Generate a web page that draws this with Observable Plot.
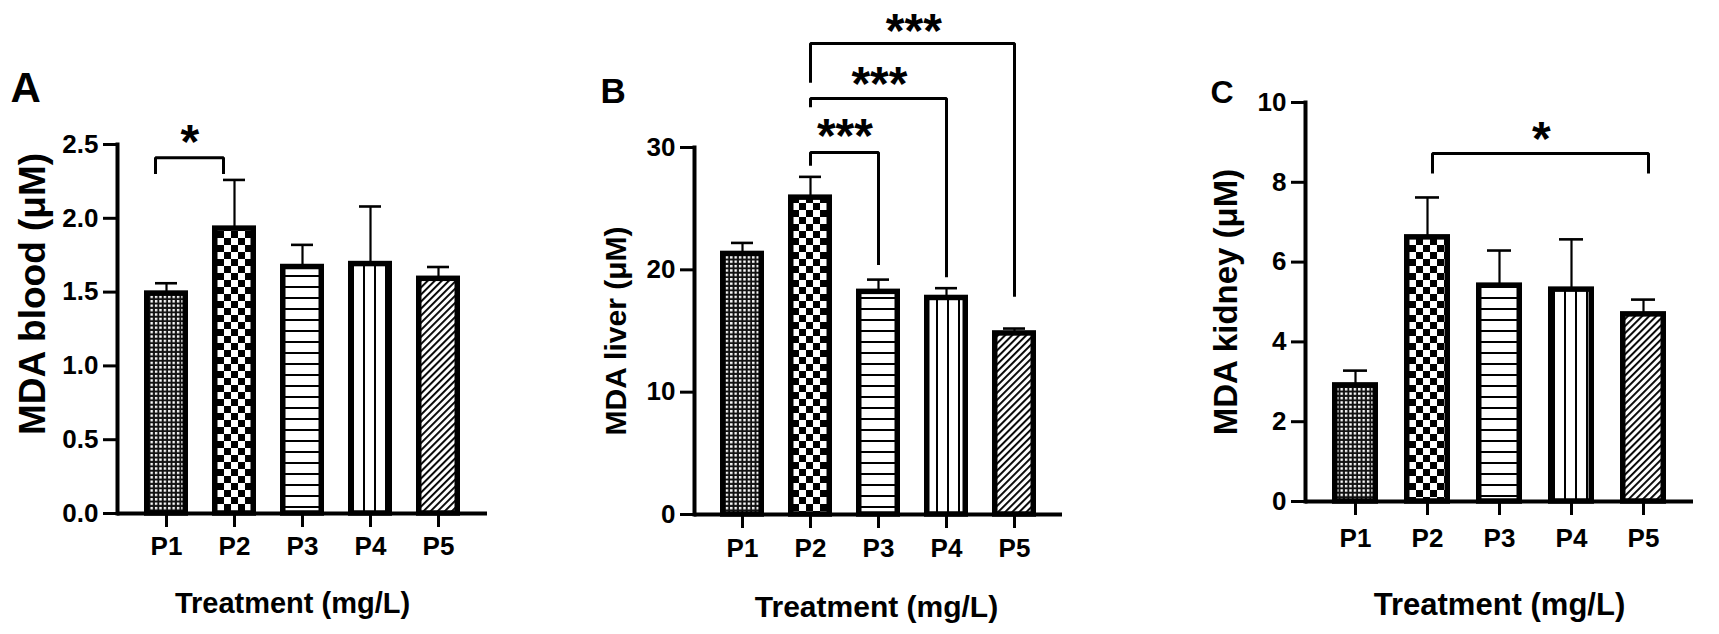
<!DOCTYPE html>
<html><head><meta charset="utf-8">
<script src="https://cdn.jsdelivr.net/npm/d3@7"></script>
<script src="https://cdn.jsdelivr.net/npm/@observablehq/plot@0.6"></script>
<style>
html,body{margin:0;padding:0;background:#fff;}
#wrap{position:relative;width:1719px;height:634px;overflow:hidden;background:#fff;}
#wrap svg{position:absolute;top:0;}
</style></head><body>
<svg width="0" height="0" style="position:absolute;left:0;top:0">
<defs>
  <pattern id="patP1" patternUnits="userSpaceOnUse" width="4.4" height="4.4">
    <rect width="4.4" height="4.4" fill="#111"/>
    <rect x="0.9" y="0.9" width="2.4" height="2.4" fill="#fff"/>
  </pattern>
  <pattern id="patP2" patternUnits="userSpaceOnUse" width="14" height="14">
    <rect width="14" height="14" fill="#fff"/>
    <rect width="7" height="7" fill="#000"/>
    <rect x="7" y="7" width="7" height="7" fill="#000"/>
  </pattern>
  <pattern id="patP3" patternUnits="userSpaceOnUse" width="10" height="11">
    <rect width="10" height="11" fill="#fff"/>
    <rect y="0" width="10" height="2" fill="#000"/>
  </pattern>
  <pattern id="patP4" patternUnits="userSpaceOnUse" width="11" height="10">
    <rect width="11" height="10" fill="#fff"/>
    <rect x="0" width="2" height="10" fill="#000"/>
  </pattern>
  <pattern id="patP5" patternUnits="userSpaceOnUse" width="5" height="5" patternTransform="rotate(45)">
    <rect width="5" height="5" fill="#fff"/>
    <rect x="0" width="1.9" height="5" fill="#000"/>
  </pattern>
</defs>
</svg>
<div id="wrap"></div>
<script>
// ---------- data ----------
const categories = ["P1", "P2", "P3", "P4", "P5"];

const bloodMean = [1.49, 1.93, 1.67, 1.69, 1.59];
const bloodErr  = [0.07, 0.33, 0.15, 0.39, 0.08];

const liverMean = [21.3, 25.9, 18.2, 17.7, 14.8];
const liverErr  = [0.9, 1.7, 1.0, 0.8, 0.4];

const kidneyMean = [2.91, 6.62, 5.41, 5.31, 4.69];
const kidneyErr  = [0.37, 1.00, 0.88, 1.26, 0.37];

const bloodTicks  = [0, 0.5, 1.0, 1.5, 2.0, 2.5];
const liverTicks  = [0, 10, 20, 30];
const kidneyTicks = [0, 2, 4, 6, 8, 10];

const bloodBrackets = [
  {from: "P1", to: "P2", leftEnd: 2.30, top: 2.41, rightEnd: 2.30, stars: "*", starTop: 2.64}
];
const liverBrackets = [
  {from: "P2", to: "P3", leftEnd: 28.5, top: 29.6, rightEnd: 20.4, stars: "***", starTop: 32.4},
  {from: "P2", to: "P4", leftEnd: 33.3, top: 34.0, rightEnd: 19.4, stars: "***", starTop: 36.7},
  {from: "P2", to: "P5", leftEnd: 35.3, top: 38.5, rightEnd: 17.8, stars: "***", starTop: 41.0}
];
const kidneyBrackets = [
  {from: "P2", to: "P5", leftEnd: 8.22, top: 8.72, rightEnd: 8.22, stars: "*", starTop: 9.55}
];

const xTitle = "Treatment (mg/L)";
const patternUrls = ["url(#patP1)", "url(#patP2)", "url(#patP3)", "url(#patP4)", "url(#patP5)"];
const FONT = "'Liberation Sans', Arial, Helvetica, sans-serif";

function drawPanel(cfg) {
  const data = categories.map((c, i) => ({cat: c, mean: cfg.means[i], err: cfg.errs[i]}));
  const pI = 0.36;
  const step = (cfg.width - cfg.mL - cfg.mR) / (categories.length - pI + 2 * cfg.pO);
  const pts = cfg.brackets.flatMap((b, k) => [
    {id: k, x: b.from, y: b.leftEnd},
    {id: k, x: b.from, y: b.top},
    {id: k, x: b.to, y: b.top},
    {id: k, x: b.to, y: b.rightEnd}
  ]);
  const starMarks = cfg.brackets.map(b => Plot.text([b], {
    x: "from", y: "starTop", text: "stars",
    dx: (categories.indexOf(b.to) - categories.indexOf(b.from)) / 2 * step + cfg.nudge,
    lineAnchor: "top", textAnchor: "middle", fontSize: 48, fontWeight: "bold", fill: "#000"
  }));
  const svg = Plot.plot({
    width: cfg.width, height: 634,
    marginLeft: cfg.mL, marginRight: cfg.mR, marginTop: cfg.mT, marginBottom: cfg.mB,
    style: {fontFamily: FONT, background: "transparent", overflow: "visible", color: "#000"},
    x: {domain: categories, paddingInner: pI, paddingOuter: cfg.pO, axis: null},
    y: {domain: [0, cfg.yMax], axis: null},
    color: {domain: categories, range: patternUrls},
    marks: [
      Plot.barY(data, {x: "cat", y: "mean", fill: "cat", stroke: "#000", strokeWidth: 5.5,
        insetLeft: 2.75, insetRight: 2.75, strokeLinejoin: "miter"}),
      Plot.ruleX(data, {x: "cat", y1: "mean", y2: d => d.mean + d.err, stroke: "#000", strokeWidth: 2.2}),
      Plot.tickY(data, {x: "cat", y: d => d.mean + d.err, stroke: "#000", strokeWidth: 2.6, insetLeft: 11, insetRight: 11}),
      Plot.axisY({ticks: cfg.yTicks, tickFormat: cfg.yFmt, tickSize: 14, tickPadding: 5, strokeWidth: 3,
        fontSize: 26, fontWeight: "bold", label: null, fill: "#000", stroke: "#000"}),
      Plot.axisX({tickSize: 14, tickPadding: cfg.xTickPad, strokeWidth: 3, fontSize: 26, fontWeight: "bold",
        label: null, fill: "#000", stroke: "#000"}),
      Plot.ruleY([0], {stroke: "#000", strokeWidth: 4}),
      Plot.frame({anchor: "left", stroke: "#000", strokeWidth: 4}),
      Plot.line(pts, {x: "x", y: "y", z: "id", stroke: "#000", strokeWidth: 3, dx: cfg.nudge,
        strokeLinejoin: "miter", strokeLinecap: "butt"}),
      ...starMarks,
      Plot.text([cfg.ylab], {text: d => d, frameAnchor: "left", rotate: -90, dx: cfg.ylabDx, dy: cfg.ylabDy,
        textAnchor: "middle", lineAnchor: "middle", fontSize: cfg.ylabSize, fontWeight: "bold", fill: "#000"}),
      Plot.text([xTitle], {text: d => d, frameAnchor: "bottom", dx: cfg.xlabDx, dy: cfg.xlabDy,
        textAnchor: "middle", lineAnchor: "top", fontSize: cfg.xlabSize, fontWeight: "bold", fill: "#000"}),
      Plot.text([cfg.letter], {text: d => d, frameAnchor: "top-left", dx: cfg.letterDx, dy: cfg.letterDy,
        textAnchor: "start", lineAnchor: "top", fontSize: cfg.letterSize, fontWeight: "bold", fill: "#000"})
    ]
  });
  svg.style.left = cfg.left + "px";
  document.getElementById("wrap").appendChild(svg);
}

drawPanel({
  left: 0, width: 540, mL: 117, mR: 53, mT: 144, mB: 121, pO: 0.378,
  yMax: 2.5, yTicks: bloodTicks, yFmt: d3.format(".1f"),
  means: bloodMean, errs: bloodErr, brackets: bloodBrackets, nudge: -11,
  letter: "A", letterSize: 42, letterDx: -107, letterDy: -72,
  ylab: "MDA blood (μM)", ylabSize: 37, ylabDx: -84, ylabDy: -35,
  xlabSize: 29, xlabDx: -10, xlabDy: 79, xTickPad: 9
});
drawPanel({
  left: 540, width: 540, mL: 154, mR: 18, mT: 147, mB: 120, pO: 0.35,
  yMax: 30, yTicks: liverTicks, yFmt: d3.format("d"),
  means: liverMean, errs: liverErr, brackets: liverBrackets, nudge: 0,
  letter: "B", letterSize: 35, letterDx: -94, letterDy: -69,
  ylab: "MDA liver (μM)", ylabSize: 30, ylabDx: -78, ylabDy: 0,
  xlabSize: 30, xlabDx: -2, xlabDy: 81, xTickPad: 10
});
drawPanel({
  left: 1080, width: 639, mL: 225, mR: 26, mT: 102, mB: 133, pO: 0.354,
  yMax: 10, yTicks: kidneyTicks, yFmt: d3.format("d"),
  means: kidneyMean, errs: kidneyErr, brackets: kidneyBrackets, nudge: 5,
  letter: "C", letterSize: 32, letterDx: -95, letterDy: -22,
  ylab: "MDA kidney (μM)", ylabSize: 33, ylabDx: -79, ylabDy: 0,
  xlabSize: 31, xlabDx: 0, xlabDy: 91, xTickPad: 13
});
</script>
</body></html>
